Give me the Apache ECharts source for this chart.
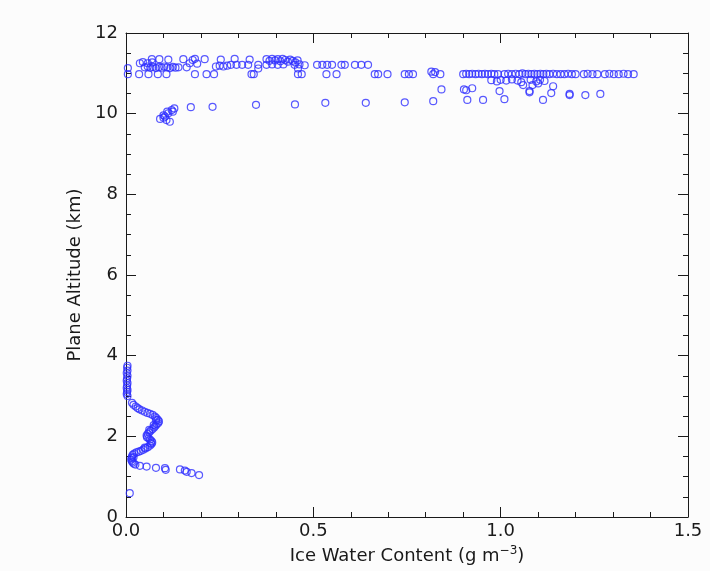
<!DOCTYPE html>
<html>
<head>
<meta charset="utf-8">
<script src="https://cdn.jsdelivr.net/npm/echarts@6/dist/echarts.min.js"></script>
<style>
  html, body { margin: 0; padding: 0; background: #fcfcfc; }
  #chart { width: 710px; height: 571px; }
</style>
</head>
<body>
<div id="chart"></div>
<script>
// Ice water content (g m^-3) vs. plane altitude (km), one [iwc, altitude] pair per sample.

// Low-level ascent profile
const lowProfile = [
  [0.004, 3.75], [0.003, 3.70], [0.004, 3.63], [0.002, 3.57], [0.004, 3.50], [0.003, 3.44],
  [0.002, 3.38], [0.004, 3.32], [0.003, 3.26], [0.002, 3.20], [0.004, 3.15], [0.003, 3.10],
  [0.002, 3.05], [0.004, 3.00],
  [0.016, 2.83], [0.020, 2.78], [0.026, 2.74], [0.031, 2.70], [0.036, 2.67], [0.043, 2.64],
  [0.050, 2.61], [0.057, 2.58], [0.064, 2.56], [0.071, 2.53], [0.077, 2.49], [0.081, 2.45],
  [0.085, 2.41], [0.088, 2.37], [0.086, 2.33], [0.082, 2.30], [0.079, 2.26], [0.075, 2.22],
  [0.071, 2.18], [0.066, 2.14], [0.062, 2.10], [0.058, 2.06], [0.055, 2.02], [0.056, 1.98],
  [0.060, 1.95], [0.064, 1.92], [0.068, 1.88], [0.070, 1.85], [0.068, 1.81], [0.064, 1.77],
  [0.058, 1.73], [0.052, 1.70], [0.046, 1.67], [0.040, 1.64], [0.034, 1.62], [0.028, 1.60],
  [0.022, 1.57], [0.018, 1.54], [0.016, 1.50], [0.015, 1.46], [0.014, 1.42], [0.016, 1.38],
  [0.018, 1.35], [0.021, 1.32], [0.025, 1.30],
  [0.080, 2.40], [0.074, 2.28], [0.062, 2.16], [0.066, 1.83], [0.050, 1.72], [0.020, 1.48]
];

// Low-level horizontal leg and lowest sample
const lowLeg = [
  [0.037, 1.27], [0.055, 1.25], [0.080, 1.22], [0.104, 1.21], [0.106, 1.17], [0.144, 1.18],
  [0.157, 1.15], [0.162, 1.12], [0.175, 1.09], [0.195, 1.04], [0.010, 0.59]
];

// Descent into the upper cloud layer
const upperDescent = [
  [0.091, 9.87], [0.100, 9.90], [0.104, 9.93], [0.113, 10.01], [0.122, 10.09], [0.129, 10.13],
  [0.117, 9.80], [0.108, 9.84], [0.100, 9.96], [0.110, 10.05], [0.125, 10.05]
];

// Cruise leg near 11.3 km
const cruiseHigh = [
  [0.069, 11.35], [0.089, 11.35], [0.113, 11.34], [0.153, 11.35], [0.178, 11.33], [0.184, 11.36],
  [0.210, 11.35], [0.253, 11.34], [0.290, 11.36], [0.330, 11.34], [0.375, 11.35], [0.383, 11.31],
  [0.390, 11.36], [0.398, 11.32], [0.405, 11.35], [0.412, 11.30], [0.418, 11.36], [0.425, 11.33],
  [0.432, 11.29], [0.438, 11.34], [0.445, 11.31], [0.452, 11.27], [0.458, 11.32],
  [0.037, 11.25], [0.045, 11.28], [0.058, 11.25], [0.070, 11.27], [0.170, 11.25], [0.190, 11.24]
];

// Cruise leg near 11.2 km
const cruiseMid = [
  [0.050, 11.15], [0.058, 11.17], [0.065, 11.14], [0.072, 11.16], [0.080, 11.13], [0.088, 11.16],
  [0.095, 11.14], [0.102, 11.17], [0.110, 11.15], [0.118, 11.13], [0.125, 11.16], [0.132, 11.14],
  [0.140, 11.15], [0.162, 11.15], [0.240, 11.17], [0.250, 11.19], [0.260, 11.17], [0.270, 11.19],
  [0.280, 11.21], [0.295, 11.21], [0.310, 11.21], [0.326, 11.21], [0.353, 11.21], [0.375, 11.21],
  [0.390, 11.22], [0.405, 11.21], [0.420, 11.22], [0.450, 11.21], [0.463, 11.22], [0.477, 11.20],
  [0.510, 11.21], [0.524, 11.21], [0.537, 11.21], [0.550, 11.21], [0.575, 11.21], [0.584, 11.21],
  [0.611, 11.21], [0.628, 11.21], [0.646, 11.21], [0.353, 11.12], [0.459, 11.12], [0.005, 11.13]
];

// Cruise leg near 11.0 km
const cruiseLow = [
  [0.005, 10.98], [0.035, 10.98], [0.060, 10.98], [0.085, 10.98], [0.108, 10.98], [0.184, 10.98],
  [0.215, 10.98], [0.235, 10.98], [0.335, 10.98], [0.341, 10.98], [0.459, 10.98], [0.469, 10.98],
  [0.535, 10.98], [0.562, 10.98], [0.664, 10.98], [0.673, 10.98], [0.698, 10.98], [0.744, 10.98],
  [0.755, 10.98], [0.766, 10.98], [0.815, 11.04], [0.825, 11.03], [0.820, 10.98], [0.839, 10.98],
  [0.900, 10.98], [0.908, 10.99], [0.916, 10.98], [0.924, 10.99], [0.933, 10.98], [0.941, 10.99],
  [0.950, 10.98], [0.958, 10.99], [0.966, 10.98], [0.975, 10.99], [0.983, 10.98], [0.993, 10.98],
  [1.010, 10.98], [1.020, 10.99], [1.030, 10.98], [1.040, 10.99], [1.050, 10.98], [1.058, 11.00],
  [1.066, 10.98], [1.074, 10.99], [1.082, 10.98], [1.090, 10.99], [1.098, 10.98], [1.106, 10.99],
  [1.114, 10.98], [1.122, 10.99], [1.130, 10.98], [1.140, 10.99], [1.150, 10.98], [1.160, 10.98],
  [1.170, 10.98], [1.180, 10.99], [1.190, 10.98], [1.200, 10.98], [1.222, 10.98], [1.232, 10.99],
  [1.245, 10.98], [1.258, 10.98], [1.278, 10.98], [1.290, 10.99], [1.302, 10.98], [1.315, 10.98],
  [1.328, 10.99], [1.340, 10.98], [1.355, 10.98],
  [0.975, 10.83], [0.990, 10.80], [1.000, 10.84], [1.015, 10.82], [1.030, 10.85], [1.045, 10.82],
  [1.055, 10.78], [1.080, 10.84], [1.095, 10.80], [1.105, 10.84], [1.117, 10.81]
];

// Scattered samples below the cruise legs
const cruiseScatter = [
  [1.060, 10.71], [1.100, 10.75], [1.085, 10.71], [0.842, 10.60], [0.902, 10.60], [0.908, 10.58],
  [0.924, 10.63], [0.997, 10.56], [1.077, 10.56], [1.140, 10.68], [1.135, 10.51], [1.077, 10.53],
  [0.911, 10.34], [0.953, 10.34], [1.010, 10.36], [1.113, 10.34], [1.184, 10.46], [1.184, 10.49],
  [1.226, 10.46], [1.266, 10.49], [0.640, 10.27], [0.744, 10.28], [0.820, 10.31], [0.347, 10.22],
  [0.451, 10.23], [0.532, 10.27], [0.173, 10.16], [0.231, 10.17]
];

const xTicks = [0.0, 0.5, 1.0, 1.5];
const yTicks = [0, 2, 4, 6, 8, 10, 12];

const samples = [].concat(lowProfile, lowLeg, upperDescent, cruiseHigh, cruiseMid, cruiseLow, cruiseScatter);

const ink = '#1a1a1a';
const markColor = '#2e2eff';
const font = 'DejaVu Sans';

function boxAxis(extra) {
  return Object.assign({
    axisLine: { show: true, onZero: false, lineStyle: { color: ink, width: 1 } },
    axisTick: { show: true, inside: true, length: 10, lineStyle: { color: ink } },
    minorTick: { show: true, length: 5, lineStyle: { color: ink } },
    splitLine: { show: false },
    minorSplitLine: { show: false }
  }, extra);
}

const chart = echarts.init(document.getElementById('chart'), null, { renderer: 'canvas' });
chart.setOption({
  backgroundColor: '#fcfcfc',
  animation: false,
  grid: { left: 126, right: 22, top: 33, bottom: 54, containLabel: false },
  xAxis: [
    boxAxis({
      type: 'value', position: 'bottom',
      min: xTicks[0], max: xTicks[xTicks.length - 1], interval: 0.5,
      minorTick: { show: true, splitNumber: 5, length: 5, lineStyle: { color: ink } },
      axisLabel: {
        color: ink, fontFamily: font, fontSize: 18, margin: 5,
        formatter: v => v.toFixed(1)
      },
      name: 'Ice Water Content (g m{sup|−3})',
      nameLocation: 'middle', nameGap: 23,
      nameTextStyle: {
        color: ink, fontFamily: font, fontSize: 18,
        rich: { sup: { fontSize: 12, fontFamily: font, color: ink, padding: [0, 0, 10, 0] } }
      }
    }),
    boxAxis({
      type: 'value', position: 'top',
      min: xTicks[0], max: xTicks[xTicks.length - 1], interval: 0.5,
      minorTick: { show: true, splitNumber: 5, length: 5, lineStyle: { color: ink } },
      axisLabel: { show: false }
    })
  ],
  yAxis: [
    boxAxis({
      type: 'value', position: 'left',
      min: yTicks[0], max: yTicks[yTicks.length - 1], interval: 2,
      minorTick: { show: true, splitNumber: 4, length: 5, lineStyle: { color: ink } },
      axisLabel: { color: ink, fontFamily: font, fontSize: 18, margin: 8 },
      name: 'Plane Altitude (km)',
      nameLocation: 'middle', nameGap: 42, nameRotate: 90,
      nameTextStyle: { color: ink, fontFamily: font, fontSize: 18 }
    }),
    boxAxis({
      type: 'value', position: 'right',
      min: yTicks[0], max: yTicks[yTicks.length - 1], interval: 2,
      minorTick: { show: true, splitNumber: 4, length: 5, lineStyle: { color: ink } },
      axisLabel: { show: false }
    })
  ],
  series: [{
    type: 'scatter',
    xAxisIndex: 0,
    yAxisIndex: 0,
    data: samples,
    symbol: 'circle',
    symbolSize: 7,
    itemStyle: { color: 'rgba(0,0,0,0)', borderColor: markColor, borderWidth: 1.2 },
    emphasis: { disabled: true }
  }]
});
</script>
</body>
</html>
